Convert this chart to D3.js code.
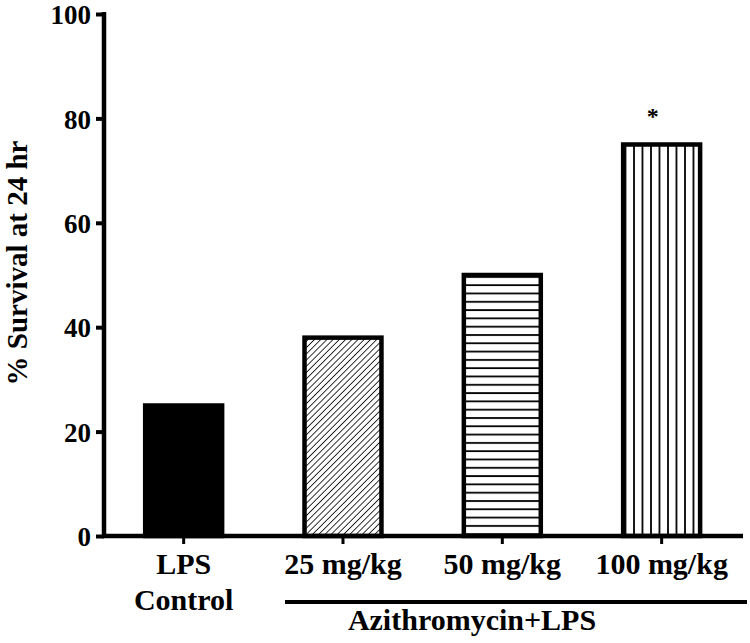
<!DOCTYPE html>
<html>
<head>
<meta charset="utf-8">
<script src="https://cdn.jsdelivr.net/npm/d3@7"></script>
<style>
  html, body { margin: 0; padding: 0; background: #fff; }
  svg { display: block; }
  text { font-family: "Liberation Serif", "Times New Roman", serif; font-weight: bold; fill: #000; }
</style>
</head>
<body>
<svg id="chart" width="750" height="643"></svg>
<script>
// ---- data ----
const categories = ["LPS Control", "25 mg/kg", "50 mg/kg", "100 mg/kg"];
const categoryLines = [["LPS", "Control"], ["25 mg/kg"], ["50 mg/kg"], ["100 mg/kg"]];
const survival = [25, 38, 50, 75];
const fills = ["solid", "diag", "horiz", "vert"];
const significance = ["", "", "", "*"];
const yTicks = [0, 20, 40, 60, 80, 100];
const yTitle = "% Survival at 24 hr";
const groupLabel = "Azithromycin+LPS";

// ---- layout ----
const svg = d3.select("#chart");
const x = d3.scaleBand().domain(categories).range([104, 741.3]).paddingInner(0.517).paddingOuter(0.2585);
const y = d3.scaleLinear().domain([0, 100]).range([536, 14]);

// patterns
const defs = svg.append("defs");
const pd = defs.append("pattern").attr("id", "diag").attr("patternUnits", "userSpaceOnUse")
  .attr("width", 4.4).attr("height", 4.4).attr("patternTransform", "rotate(45)");
pd.append("rect").attr("width", 4.4).attr("height", 4.4).attr("fill", "#fff");
pd.append("line").attr("x1", 0).attr("y1", 0).attr("x2", 0).attr("y2", 4.4)
  .attr("stroke", "#000").attr("stroke-width", 1.6);
const ph = defs.append("pattern").attr("id", "horiz").attr("patternUnits", "userSpaceOnUse")
  .attr("width", 10).attr("height", 8.3).attr("y", 2);
ph.append("rect").attr("width", 10).attr("height", 8.3).attr("fill", "#fff");
ph.append("line").attr("x1", 0).attr("y1", 1).attr("x2", 10).attr("y2", 1)
  .attr("stroke", "#000").attr("stroke-width", 1.8);
const pv = defs.append("pattern").attr("id", "vert").attr("patternUnits", "userSpaceOnUse")
  .attr("width", 8.5).attr("height", 10).attr("x", 4);
pv.append("rect").attr("width", 8.5).attr("height", 10).attr("fill", "#fff");
pv.append("line").attr("x1", 1).attr("y1", 0).attr("x2", 1).attr("y2", 10)
  .attr("stroke", "#000").attr("stroke-width", 1.8);

const data = categories.map((c, i) => ({ c, v: survival[i], f: fills[i], s: significance[i], lines: categoryLines[i] }));

// bars
svg.append("g").selectAll("rect").data(data).join("rect")
  .attr("x", d => x(d.c))
  .attr("y", d => y(d.v))
  .attr("width", x.bandwidth())
  .attr("height", d => y(0) - y(d.v))
  .attr("fill", d => d.f === "solid" ? "#000" : `url(#${d.f})`)
  .attr("stroke", "#000")
  .attr("stroke-width", 4.5);

// significance marks
svg.append("g").selectAll("text").data(data.filter(d => d.s)).join("text")
  .attr("x", d => x(d.c) + x.bandwidth() / 2 - 9)
  .attr("y", d => y(d.v) - 21)
  .attr("text-anchor", "middle")
  .attr("font-size", 24)
  .text(d => d.s);

// y axis
const gy = svg.append("g").attr("transform", "translate(104,0)")
  .call(d3.axisLeft(y).tickValues(yTicks).tickSize(8).tickSizeOuter(0).tickPadding(5));
gy.select(".domain").attr("stroke", "#000").attr("stroke-width", 4.5)
  .attr("d", `M0,${y(100) - 2}V${y(0) + 2}`);
gy.selectAll(".tick line").attr("stroke", "#000").attr("stroke-width", 4);
gy.selectAll(".tick text").attr("font-size", 27).attr("font-family", "Liberation Serif")
  .attr("font-weight", "bold").attr("dy", "0.36em").attr("fill", "#000");

// x axis
const gx = svg.append("g").attr("transform", `translate(0,${y(0)})`)
  .call(d3.axisBottom(x).tickSize(8).tickSizeOuter(0).tickFormat(""));
gx.select(".domain").attr("stroke", "#000").attr("stroke-width", 4.5)
  .attr("d", `M102,0H743`);
gx.selectAll(".tick line").attr("stroke", "#000").attr("stroke-width", 3);

// x category labels
const lbl = svg.append("g").selectAll("text").data(data).join("text")
  .attr("x", d => x(d.c) + x.bandwidth() / 2)
  .attr("y", 574)
  .attr("text-anchor", "middle")
  .attr("font-size", 30);
lbl.selectAll("tspan").data(d => d.lines.map(t => ({ t, cx: x(d.c) + x.bandwidth() / 2 }))).join("tspan")
  .attr("x", d => d.cx)
  .attr("dy", (d, i) => i === 0 ? 0 : 36)
  .text(d => d.t);

// group bracket
svg.append("line")
  .attr("x1", 285).attr("x2", 747).attr("y1", 602).attr("y2", 602)
  .attr("stroke", "#000").attr("stroke-width", 4);
svg.append("text")
  .attr("x", 472).attr("y", 630)
  .attr("text-anchor", "middle").attr("font-size", 30)
  .text(groupLabel);

// y title
svg.append("text")
  .attr("transform", "translate(27,263) rotate(-90)")
  .attr("text-anchor", "middle").attr("font-size", 29)
  .text(yTitle);
</script>
</body>
</html>
